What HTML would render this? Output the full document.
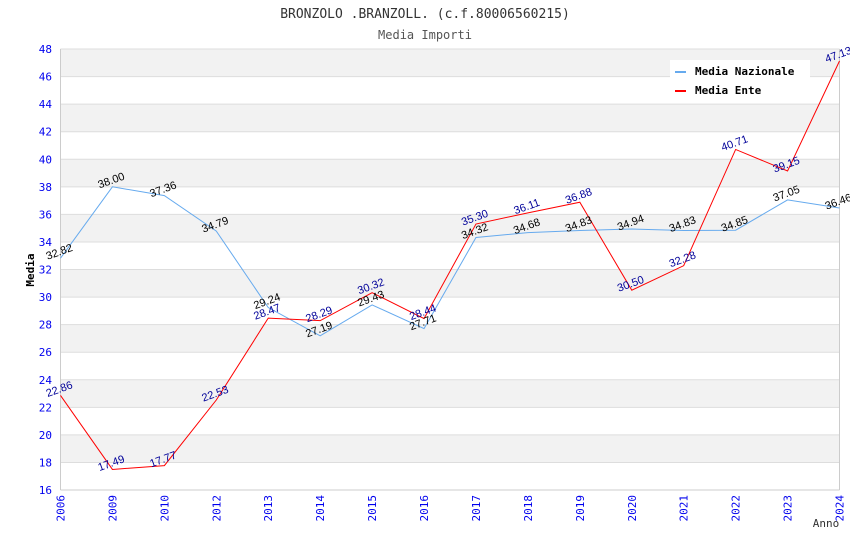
<!DOCTYPE html>
<html><head><meta charset="utf-8"><style>
body{margin:0;background:#fff;}
svg text{font-family:"DejaVu Sans Mono","Liberation Mono",monospace;}
svg text.val{font-family:"Liberation Sans",sans-serif;}
</style></head><body>
<svg id="chart" width="850" height="550" xmlns="http://www.w3.org/2000/svg">
<text x="425" y="18" text-anchor="middle" font-size="13" fill="#333">BRONZOLO .BRANZOLL. (c.f.80006560215)</text>
<text x="425" y="39" text-anchor="middle" font-size="12" fill="#555">Media Importi</text>
<g id="bands"></g><g id="grid"></g><g id="axes"></g><g id="series"></g><g id="labels"></g>
<text transform="translate(34,270) rotate(-90)" text-anchor="middle" font-size="11" font-weight="bold" fill="#000">Media</text>
<text x="826" y="527" text-anchor="middle" font-size="11" fill="#333">Anno</text>
<g>
<rect x="670" y="60" width="140" height="40" fill="#fff"/>
<line x1="675" y1="72" x2="686" y2="72" stroke="#66aaee" stroke-width="2"/>
<text x="695" y="75" font-size="11" font-weight="bold">Media Nazionale</text>
<line x1="675" y1="91" x2="686" y2="91" stroke="#ff0000" stroke-width="2"/>
<text x="695" y="94" font-size="11" font-weight="bold">Media Ente</text>
</g>
</svg>
<script>
const categories=["2006","2009","2010","2012","2013","2014","2015","2016","2017","2018","2019","2020","2021","2022","2023","2024"];
const nazionale=[32.82,38.00,37.36,34.79,29.24,27.19,29.43,27.71,34.32,34.68,34.83,34.94,34.83,34.85,37.05,36.46];
const ente=[22.86,17.49,17.77,22.53,28.47,28.29,30.32,28.44,35.30,36.11,36.88,30.50,32.28,40.71,39.15,47.13];
const yTicks=[16,18,20,22,24,26,28,30,32,34,36,38,40,42,44,46,48];
const NS="http://www.w3.org/2000/svg";
const L=60.5,R=839.5,T=49,B=490,ymin=16,ymax=48;
const x=i=>L+i*(R-L)/(categories.length-1);
const y=v=>B-(v-ymin)*(B-T)/(ymax-ymin);
function mk(tag,attrs,parent){const e=document.createElementNS(NS,tag);for(const k in attrs)e.setAttribute(k,attrs[k]);document.getElementById(parent).appendChild(e);return e;}
for(let i=0;i<yTicks.length-1;i++){
 if((yTicks.length-2-i)%2===0){const r=mk('rect',{x:L,y:y(yTicks[i+1]),width:R-L,height:y(yTicks[i])-y(yTicks[i+1]),fill:'#f2f2f2'},'bands');
 
 }
}
yTicks.forEach(v=>{
 const g=mk('line',{x1:L,x2:R,y1:y(v),y2:y(v),stroke:'#dddddd'},'grid');
 
 
 const t=mk('text',{x:52,y:y(v)+4,'text-anchor':'end','font-size':11,fill:'#0000ee'},'axes');t.textContent=v;
 
 
});
mk('line',{x1:L,x2:L,y1:T,y2:B,stroke:'#ccc'},'axes');
mk('line',{x1:R,x2:R,y1:T,y2:B,stroke:'#ccc'},'axes');
mk('line',{x1:L,x2:R,y1:B,y2:B,stroke:'#ccc'},'axes');
categories.forEach((c,i)=>{
 const t=mk('text',{transform:`translate(${x(i)+4},${B+5}) rotate(-90)`,'text-anchor':'end','font-size':11,fill:'#0000ee'},'axes');t.textContent=c;
 
 
});
function series(vals,color,lc,name){
 const p=mk('polyline',{points:vals.map((v,i)=>x(i)+','+y(v)).join(' '),fill:'none',stroke:color,'stroke-width':1},'series');
 
 
 vals.forEach((v,i)=>{
  const t=mk('text',{class:'val',transform:`translate(${x(i)},${y(v)-3}) rotate(-20)`,'text-anchor':'middle','font-size':11,fill:lc},'labels');
  t.textContent=v.toFixed(2);
  
  
 });
}
series(nazionale,'#66aaee','#000','nazionale');
series(ente,'#ff0000','#000099','ente');
</script>
</body></html>
